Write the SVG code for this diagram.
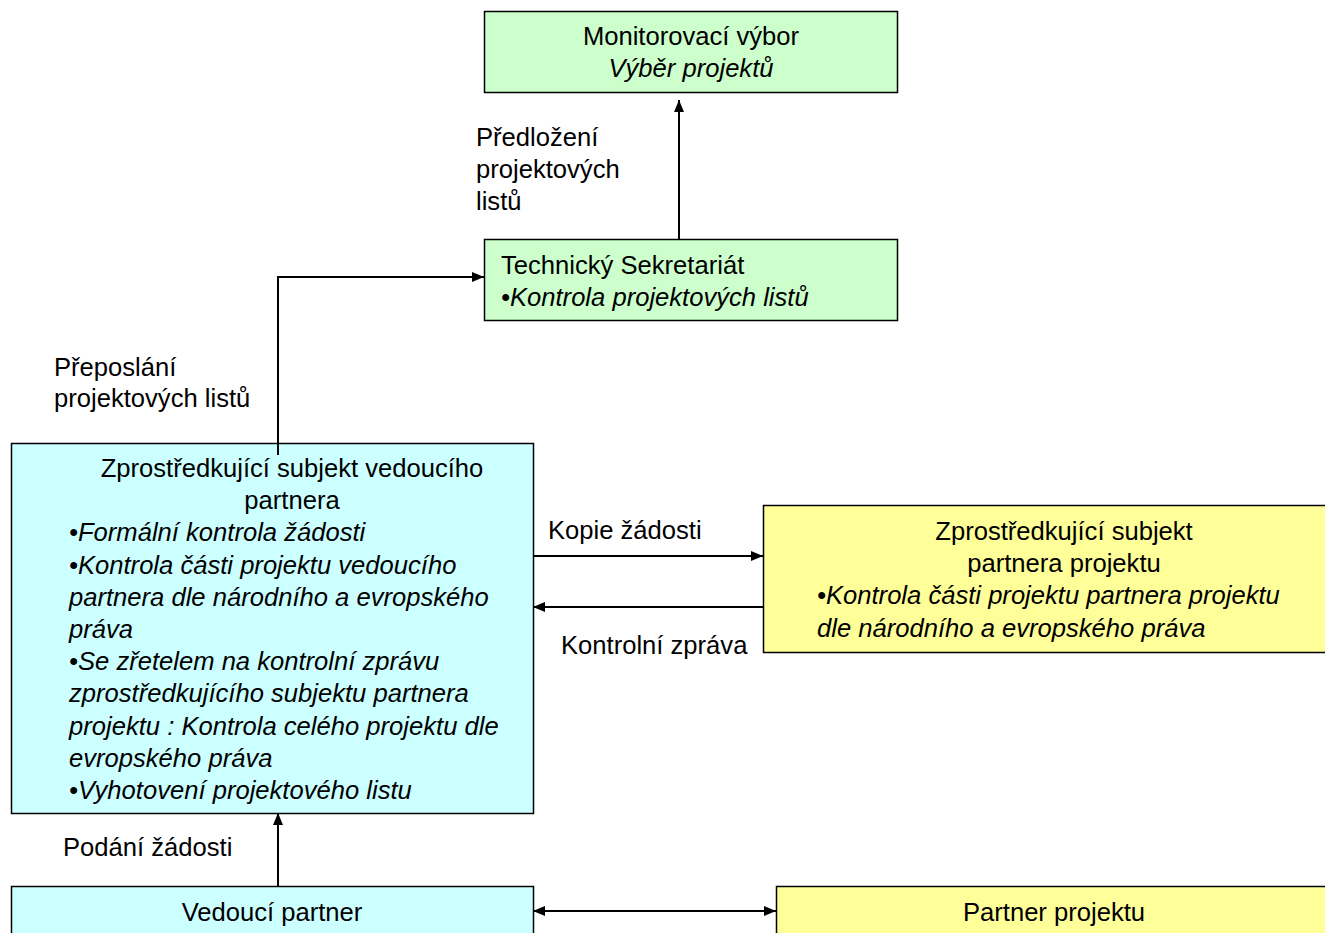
<svg xmlns="http://www.w3.org/2000/svg" width="1325" height="933" viewBox="0 0 1325 933">
<defs>
<style>
text{font-family:"Liberation Sans",Arial,sans-serif;font-size:25.6px;fill:#000}
.i{font-style:italic}
.m{text-anchor:middle}
.box{stroke:#000;stroke-width:1.5}
.g{fill:#ccffcc}.c{fill:#ccffff}.y{fill:#ffff99}
.ln{stroke:#000;stroke-width:2;fill:none}
</style>
<marker id="ah" viewBox="0 0 12 10" refX="12" refY="5" markerWidth="12" markerHeight="10" orient="auto-start-reverse" markerUnits="userSpaceOnUse"><path d="M0,0 L12,5 L0,10 z" fill="#000"/></marker>
</defs>
<rect width="1325" height="933" fill="#fff"/>
<g id="connectors">
<line class="ln" x1="679" y1="239" x2="679" y2="100" marker-end="url(#ah)"/>
<polyline class="ln" points="278,455 278,277 484,277" marker-end="url(#ah)"/>
<line class="ln" x1="533" y1="556" x2="763" y2="556" marker-end="url(#ah)"/>
<line class="ln" x1="763" y1="607" x2="533" y2="607" marker-end="url(#ah)"/>
<line class="ln" x1="278" y1="886" x2="278" y2="813" marker-end="url(#ah)"/>
<line class="ln" x1="533" y1="911" x2="776" y2="911" marker-start="url(#ah)" marker-end="url(#ah)"/>
<text x="476" y="146">Předložení</text>
<text x="476" y="178">projektových</text>
<text x="476" y="210">listů</text>
<text x="54" y="376">Přeposlání</text>
<text x="54" y="407">projektových listů</text>
<text x="548" y="539">Kopie žádosti</text>
<text x="561" y="654">Kontrolní zpráva</text>
<text x="63" y="856">Podání žádosti</text>
</g>
<g id="monitorovaci">
<rect class="box g" x="484.5" y="11.5" width="413" height="81"/>
<text class="m" x="691" y="45">Monitorovací výbor</text>
<text class="m i" x="691" y="77">Výběr projektů</text>
</g>
<g id="technicky">
<rect class="box g" x="484.5" y="239.5" width="413" height="81"/>
<text x="501" y="274">Technický Sekretariát</text>
<text class="i" x="501" y="306">•Kontrola projektových listů</text>
</g>
<g id="zs-lp">
<rect class="box c" x="11.5" y="443.5" width="522" height="370"/>
<line class="ln" x1="278" y1="443" x2="278" y2="455"/>
<text class="m" x="292" y="477">Zprostředkující subjekt vedoucího</text>
<text class="m" x="292" y="509">partnera</text>
<text class="i" x="69" y="541">•Formální kontrola žádosti</text>
<text class="i" x="69" y="574">•Kontrola části projektu vedoucího</text>
<text class="i" x="69" y="606">partnera dle národního a evropského</text>
<text class="i" x="69" y="638">práva</text>
<text class="i" x="69" y="670">•Se zřetelem na kontrolní zprávu</text>
<text class="i" x="69" y="702">zprostředkujícího subjektu partnera</text>
<text class="i" x="69" y="735">projektu : Kontrola celého projektu dle</text>
<text class="i" x="69" y="767">evropského práva</text>
<text class="i" x="69" y="799">•Vyhotovení projektového listu</text>
</g>
<g id="zs-pp">
<rect class="box y" x="763.5" y="505.5" width="564" height="147"/>
<text class="m" x="1064" y="540">Zprostředkující subjekt</text>
<text class="m" x="1064" y="572">partnera projektu</text>
<text class="i" x="817" y="604">•Kontrola části projektu partnera projektu</text>
<text class="i" x="817" y="637">dle národního a evropského práva</text>
</g>
<g id="vedouci">
<rect class="box c" x="11.5" y="886.5" width="522" height="60"/>
<text class="m" x="272" y="921">Vedoucí partner</text>
</g>
<g id="partner">
<rect class="box y" x="776.5" y="886.5" width="560" height="60"/>
<text class="m" x="1054" y="921">Partner projektu</text>
</g>
</svg>
